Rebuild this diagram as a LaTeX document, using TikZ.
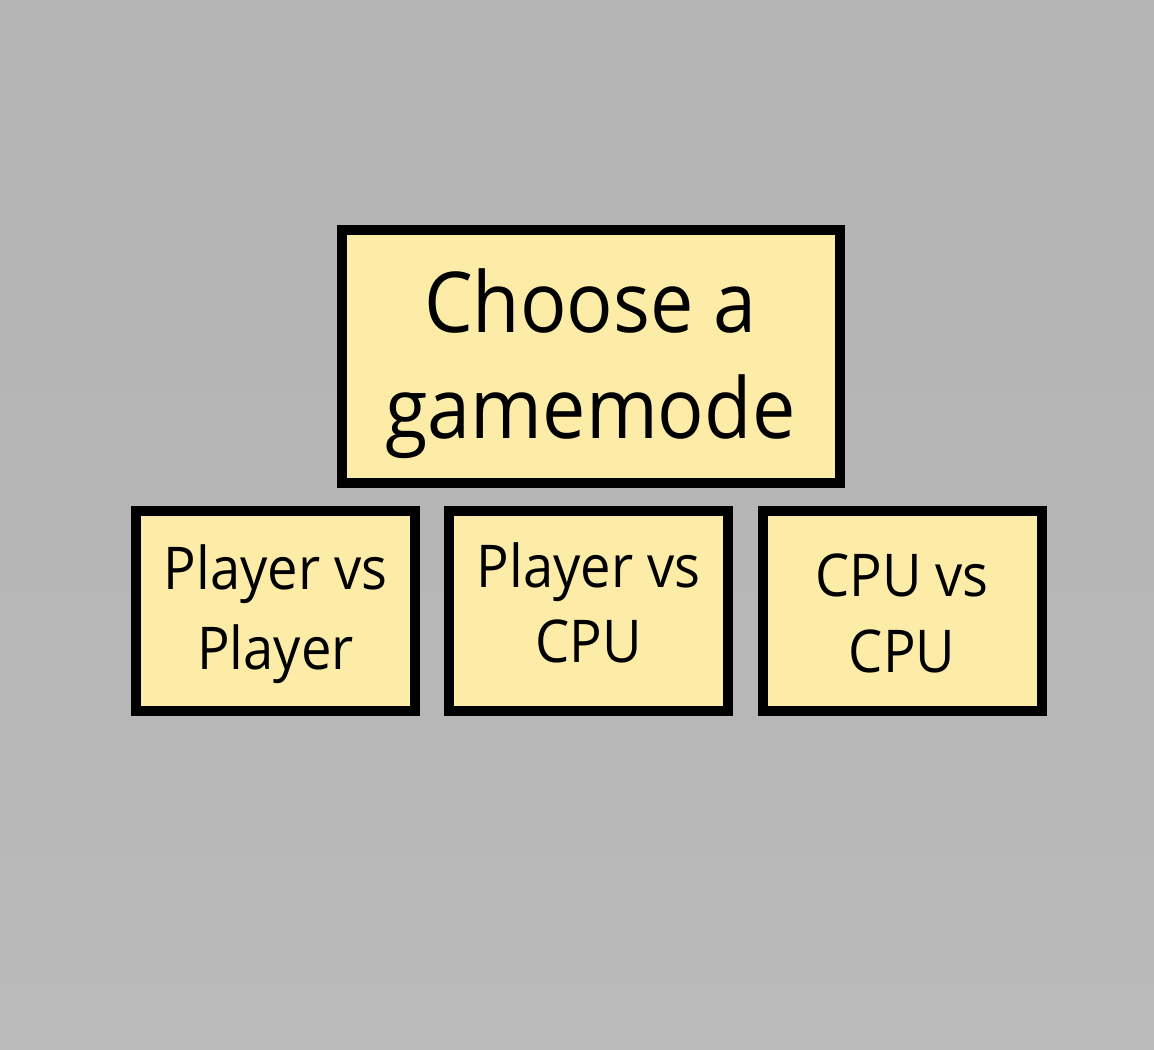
\documentclass[tikz,border=0pt]{standalone}
\usepackage{fontspec}
\setmainfont[FakeStretch=0.92]{Open Sans}
\definecolor{bggray}{HTML}{B5B6B5}
\definecolor{bgtop}{HTML}{B3B4B3}
\definecolor{bgbottom}{HTML}{B9BAB9}
\definecolor{boxyellow}{HTML}{FDECA8}
\begin{document}
\begin{tikzpicture}[line join=miter,
    modebox/.style={draw=black,line width=10bp,fill=boxyellow,rectangle,align=center,inner sep=0pt},
    bigmode/.style={modebox,minimum width=498bp,minimum height=253bp,font=\fontsize{84bp}{106bp}\selectfont},
    smallmode/.style={modebox,minimum width=279bp,minimum height=200bp,font=\fontsize{59bp}{#1bp}\selectfont},
    ]
        %%
        \useasboundingbox (0bp,0bp) rectangle (1154bp,1050bp);
        \shade [top color=bgtop,bottom color=bgbottom,middle color=bggray] (0bp,0bp) rectangle (1154bp,1050bp);
        \node (choose) at (590.5bp,693.5bp) [bigmode] {\rule{0pt}{79bp}Choose a\\gamemode\rule[-20bp]{0pt}{20bp}};
        \node (pvp) at (275.5bp,439.0bp) [smallmode=80] {\rule{0pt}{52bp}Player vs\\Player\rule[-14bp]{0pt}{14bp}};
        \node (pvc) at (588.5bp,439.0bp) [smallmode=75] {\rule{0pt}{50bp}Player vs\\CPU\rule[-21bp]{0pt}{21bp}};
        \node (cvc) at (902.0bp,439.0bp) [smallmode=76] {\rule{0pt}{62bp}CPU vs\\CPU\rule[-14bp]{0pt}{14bp}};
        %
\end{tikzpicture}
\end{document}
